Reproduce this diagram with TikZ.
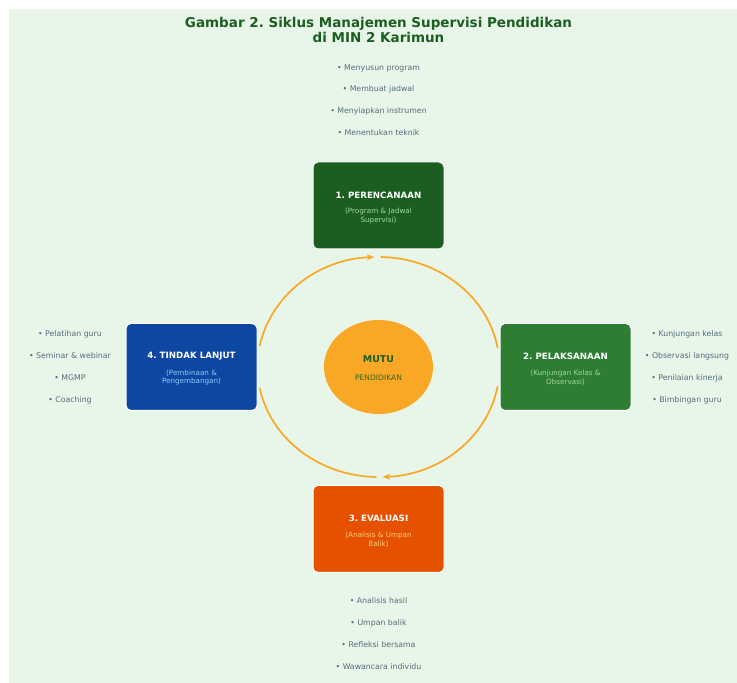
\documentclass[tikz,border=0pt]{standalone}
\usepackage{fontspec}
\setmainfont{DejaVu Sans}
\usetikzlibrary{arrows.meta,calc}
\frenchspacing

\definecolor{bgmint}{HTML}{E8F5E9}
\definecolor{darkgreen}{HTML}{1B5E20}
\definecolor{midgreen}{HTML}{2E7D32}
\definecolor{deeporange}{HTML}{E65100}
\definecolor{deepblue}{HTML}{0D47A1}
\definecolor{amber}{HTML}{F9A825}
\definecolor{olive}{HTML}{33691E}
\definecolor{bluegrey}{HTML}{546E7A}
\definecolor{palegreen}{HTML}{A5D6A7}
\definecolor{paleorange}{HTML}{FFCC80}
\definecolor{paleblue}{HTML}{90CAF9}

\begin{document}
\begin{tikzpicture}[x=1pt, y=1pt,
    phase/.style={draw=white, line width=1pt, rounded corners=5pt,
      minimum width=131pt, minimum height=87pt, inner sep=0pt},
    phasetitle/.style={text=white, font=\fontsize{8.7}{10}\selectfont\bfseries},
    phasesub/.style={align=center, font=\fontsize{7.2}{8.6}\selectfont},
    task/.style={text=bluegrey, font=\fontsize{7.8}{9}\selectfont},
    cyclearc/.style={draw=amber, line width=1.7pt},
    cyclearrow/.style={cyclearc, -{Stealth[length=7.5pt, width=6pt]}}]
    \useasboundingbox (0,0) rectangle (737,683);
    \fill[bgmint] (9,0) rectangle (737,674);

    % title
    \node[align=center, text=darkgreen, font=\fontsize{13.5}{15}\selectfont\bfseries]
        (title) at (378.5,653.5) {Gambar 2. Siklus Manajemen Supervisi Pendidikan\\di MIN 2 Karimun};

    % cycle arcs around the core
    \coordinate (core) at (378.5,316);
    \coordinate (arcA) at ($(core)+(169:121 and 110)$);
    \coordinate (arcB) at ($(core)+(89:121 and 110)$);
    \coordinate (arcC) at ($(core)+(-10:121 and 110)$);
    \coordinate (arcD) at ($(core)+(-91:121 and 110)$);
    \draw[cyclearrow] (arcA) arc[start angle=169, end angle=92, x radius=121, y radius=110];
    \draw[cyclearc] (arcB) arc[start angle=89, end angle=10, x radius=121, y radius=110];
    \draw[cyclearrow] (arcC) arc[start angle=-10, end angle=-88, x radius=121, y radius=110];
    \draw[cyclearc] (arcD) arc[start angle=-91, end angle=-169, x radius=121, y radius=110];

    % centre
    \fill[amber] (core) ellipse[x radius=54.5, y radius=47];
    \node[text=darkgreen, font=\fontsize{9.4}{11}\selectfont\bfseries] (mutu) at (378.5,324) {MUTU};
    \node[text=olive, font=\fontsize{7.6}{9}\selectfont] (pend) at (378.5,305) {PENDIDIKAN};

    % the four phases
    \node[phase, fill=darkgreen] (plan) at (378.5,477.5) {};
    \node[phasetitle] at (378.5,488) {1. PERENCANAAN};
    \node[phasesub, text=palegreen] at (378.5,467) {(Program \& Jadwal\\Supervisi)};

    \node[phase, fill=midgreen] (exec) at (565.5,316) {};
    \node[phasetitle] at (565.5,327) {2. PELAKSANAAN};
    \node[phasesub, text=palegreen] at (565.5,305.5) {(Kunjungan Kelas \&\\Observasi)};

    \node[phase, fill=deeporange] (eval) at (378.5,154) {};
    \node[phasetitle] at (378.5,165) {3. EVALUASI};
    \node[phasesub, text=paleorange] at (378.5,143.5) {(Analisis \& Umpan\\Balik)};

    \node[phase, fill=deepblue] (follow) at (191.5,316) {};
    \node[phasetitle] at (191.5,327) {4. TINDAK LANJUT};
    \node[phasesub, text=paleblue] at (191.5,305.5) {(Pembinaan \&\\Pengembangan)};

    % activities of each phase
    \node[task] (plan1) at (378.5,615) {• Menyusun program};
    \node[task] (plan2) at (378.5,594) {• Membuat jadwal};
    \node[task] (plan3) at (378.5,572) {• Menyiapkan instrumen};
    \node[task] (plan4) at (378.5,550) {• Menentukan teknik};

    \node[task] (exec1) at (687,349) {• Kunjungan kelas};
    \node[task] (exec2) at (687,327) {• Observasi langsung};
    \node[task] (exec3) at (687,305) {• Penilaian kinerja};
    \node[task] (exec4) at (687,283) {• Bimbingan guru};

    \node[task] (eval1) at (378.5,82) {• Analisis hasil};
    \node[task] (eval2) at (378.5,60) {• Umpan balik};
    \node[task] (eval3) at (378.5,38) {• Refleksi bersama};
    \node[task] (eval4) at (378.5,16) {• Wawancara individu};

    \node[task] (follow1) at (70,349) {• Pelatihan guru};
    \node[task] (follow2) at (70,327) {• Seminar \& webinar};
    \node[task] (follow3) at (70,305) {• MGMP};
    \node[task] (follow4) at (70,283) {• Coaching};
\end{tikzpicture}
\end{document}
